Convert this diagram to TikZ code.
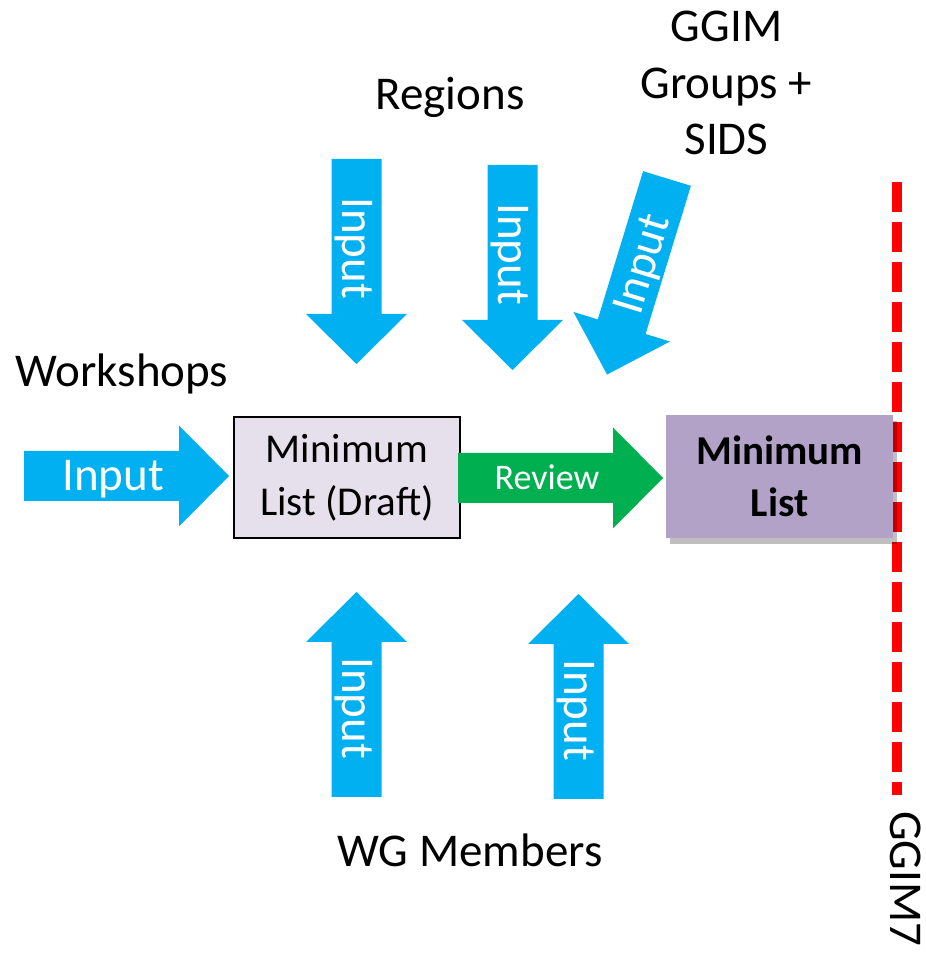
\documentclass[tikz,border=0pt]{standalone}
\usepackage{fontspec}
\setmainfont{Carlito}
\usetikzlibrary{shadows}
\definecolor{inblue}{HTML}{00B0F0}
\definecolor{revgreen}{HTML}{00B050}
\definecolor{draftfill}{HTML}{E6E0EC}
\definecolor{finalfill}{HTML}{B3A2C7}
\definecolor{dashred}{HTML}{FF0000}
\tikzset{
  lbl/.style={font=\fontsize{47}{56.5}\selectfont, align=center, inner sep=0pt, anchor=base},
  arrowtext/.style={text=white, inner sep=0pt, anchor=base, font=\fontsize{47}{56}\selectfont},
  reviewtext/.style={font=\fontsize{36}{44}\selectfont},
  bluearrow/.style={fill=inblue},
  greenarrow/.style={fill=revgreen},
  draftbox/.style={draw=black, line width=2pt, fill=draftfill, minimum width=226pt, minimum height=121pt,
    inner sep=0pt, align=center, font=\fontsize{41}{53}\selectfont},
  finalbox/.style={fill=finalfill, minimum width=227pt, minimum height=123pt, inner sep=0pt, align=center,
    font=\bfseries\fontsize{41}{52}\selectfont,
    drop shadow={shadow xshift=4pt, shadow yshift=-6pt, fill=black, opacity=0.25}},
  redline/.style={draw=dashred, line width=10pt, dash pattern=on 30pt off 10pt},
}
% #1 name, #2 x, #3 y (tail centre), #4 direction, #5 text rotation, #6 text, #7 side offset, #8 fill style, #9 extra text style
\newcommand\blkarrow[9]{%
  \begin{scope}[shift={(#2,#3)}, rotate=#4]
    \fill[#8] (0,-25) -- (155,-25) -- (155,-50.5) -- (205,0) -- (155,50.5) -- (155,25) -- (0,25) -- cycle;
    \node[arrowtext, #9, rotate=#5] (#1) at (89,#7) {#6};
  \end{scope}}
\begin{document}
\begin{tikzpicture}[x=1pt, y=1pt]
  \fill[white] (0,0) rectangle (926,953);
  \useasboundingbox (0,0) rectangle (926,953);

  % red dashed GGIM7 line
  \coordinate (redtop) at (897,771);
  \coordinate (redbot) at (897,158);
  \draw[redline] (redtop) -- (redbot);

  % boxes
  \node[draftbox] (draft) at (347,475.5) {Minimum\\List (Draft)};
  \node[finalbox] (final) at (779.5,476.5) {Minimum\\List};

  % block arrows
  \blkarrow{inleft}{24}{477}{0}{0}{Input}{-15}{bluearrow}{}
  \blkarrow{intopa}{356.5}{794}{-90}{-90}{Input}{-14.5}{bluearrow}{}
  \blkarrow{intopb}{512.5}{788}{-90}{-90}{Input}{-14.5}{bluearrow}{}
  \blkarrow{intopc}{667}{774.5}{253}{73}{Input}{15}{bluearrow}{}
  \blkarrow{inbota}{356.5}{156}{90}{-90}{Input}{14.5}{bluearrow}{}
  \blkarrow{inbotb}{578.5}{154}{90}{-90}{Input}{14.5}{bluearrow}{}
  \blkarrow{review}{458}{475}{0}{0}{Review}{-12}{greenarrow}{reviewtext}

  % labels
  \node[lbl] (workshops) at (122,566) {Workshops};
  \node[lbl] (regions) at (450,843) {Regions};
  \node[lbl] (ggimgroups) at (726.5,798) {GGIM\\Groups +\\SIDS};
  \node[lbl] (wgmembers) at (470,86) {WG Members};
  \node[lbl, anchor=base west, rotate=-90] (ggim7) at (890,142) {GGIM7};
\end{tikzpicture}
\end{document}
